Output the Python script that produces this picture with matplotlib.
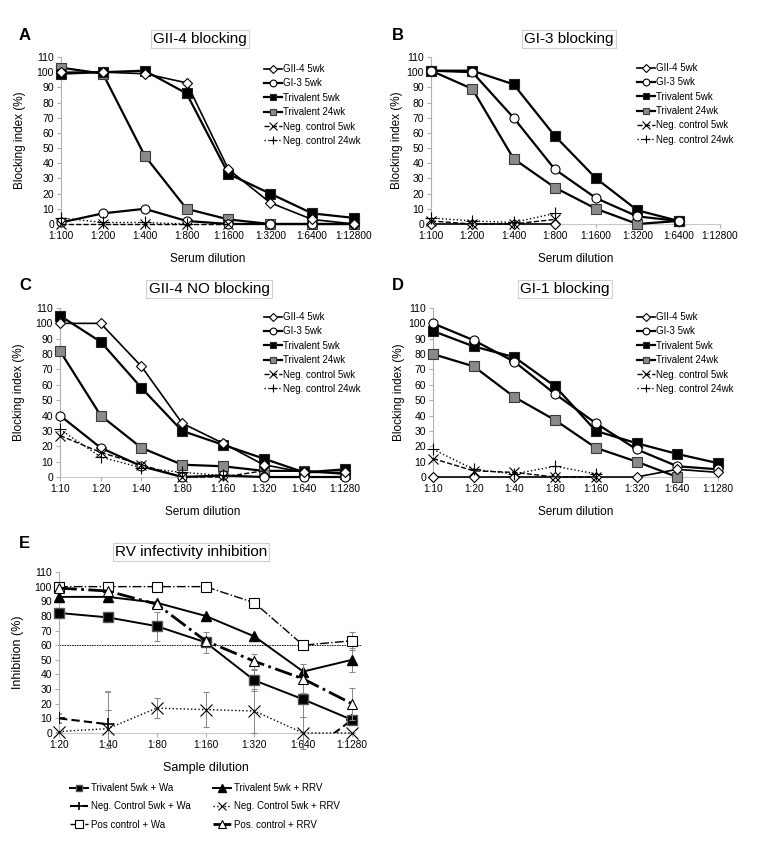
import numpy as np
import matplotlib
matplotlib.use('Agg')
import matplotlib.pyplot as plt

plt.rcParams['font.family'] = ['Liberation Sans', 'DejaVu Sans']

nan = np.nan

# dilution categories
cats_ab = ['1:100', '1:200', '1:400', '1:800', '1:1600', '1:3200', '1:6400', '1:12800']
cats_cd = ['1:10', '1:20', '1:40', '1:80', '1:160', '1:320', '1:640', '1:1280']
cats_e = ['1:20', '1:40', '1:80', '1:160', '1:320', '1:640', '1:1280']

series_names = ['GII-4 5wk', 'GI-3 5wk', 'Trivalent 5wk', 'Trivalent 24wk',
                'Neg. control 5wk', 'Neg. control 24wk']

# A: GII-4 blocking
a_gii4 = [100, 100, 99, 93, 36, 14, 3, 0]
a_gi3 = [1, 7, 10, 2, 0, 0, 0, 0]
a_tri5 = [99, 100, 101, 86, 33, 20, 7, 4]
a_tri24 = [103, 99, 45, 10, 3, 0, 0, 0]
a_neg5 = [0, 0, 0, 0, 0, nan, nan, nan]
a_neg24 = [4, 1, 1, 0, nan, nan, nan, nan]

# B: GI-3 blocking
b_gii4 = [0, 0, 0, 0, nan, nan, nan, nan]
b_gi3 = [101, 100, 70, 36, 17, 5, 2, nan]
b_tri5 = [101, 101, 92, 58, 30, 9, 2, nan]
b_tri24 = [101, 89, 43, 24, 10, 0, 2, nan]
b_neg5 = [2, 0, 0, 3, nan, nan, nan, nan]
b_neg24 = [4, 2, 1, 7, nan, nan, nan, nan]

# C: GII-4 NO blocking
c_gii4 = [100, 100, 72, 35, 22, 8, 3, 3]
c_gi3 = [40, 19, 7, 0, 1, 0, 0, 0]
c_tri5 = [105, 88, 58, 30, 21, 12, 3, 5]
c_tri24 = [82, 40, 19, 8, 7, 4, 4, 2]
c_neg5 = [27, 16, 8, 0, 0, 4, nan, nan]
c_neg24 = [31, 13, 6, 3, 1, nan, nan, nan]

# D: GI-1 blocking
d_gii4 = [0, 0, 0, 0, 0, 0, 5, 3]
d_gi3 = [100, 89, 75, 54, 35, 18, 7, 5]
d_tri5 = [95, 85, 78, 59, 30, 22, 15, 9]
d_tri24 = [80, 72, 52, 37, 19, 10, 0, nan]
d_neg5 = [12, 4, 3, 0, 0, nan, nan, nan]
d_neg24 = [18, 5, 2, 7, 2, nan, nan, nan]

# E: RV infectivity inhibition
e_tri_wa = [82, 79, 73, 62, 36, 23, 9]
e_tri_wa_err = [0, 0, 10, 7, 7, 12, 0]
e_tri_rrv = [93, 93, 89, 80, 66, 42, 50]
e_tri_rrv_err = [0, 0, 0, 0, 0, 0, 8]
e_neg_wa = [10, 6, nan, nan, nan, -16, 9]
e_neg_wa_err = [3, 22, 0, 0, 0, 0, 0]
e_neg_rrv = [1, 3, 17, 16, 15, 0, 0]
e_neg_rrv_err = [0, 13, 7, 12, 15, 11, 0]
e_pos_wa = [100, 100, 100, 100, 89, 60, 63]
e_pos_wa_err = [0, 0, 0, 0, 0, 0, 6]
e_pos_rrv = [99, 97, 88, 63, 49, 37, 20]
e_pos_rrv_err = [0, 0, 0, 0, 5, 10, 11]
threshold = 60

W, H = 758, 847
fig = plt.figure(figsize=(W / 100, H / 100), dpi=100)


def px_axes(x0, x1, y0, y1):
    # pixel box -> axes (x0/x1 first/last category, y0 = value 0, y1 = value 110)
    return fig.add_axes([x0 / W, 1 - y0 / H, (x1 - x0) / W, (y0 - y1) / H])


def style_axes(ax, cats):
    ax.set_ylim(0, 110)
    ax.set_xlim(0, len(cats) - 1)
    ax.set_yticks(range(0, 111, 10))
    for s in ['top', 'right']:
        ax.spines[s].set_visible(False)
    ax.spines['left'].set_color('#b0b0b0')
    ax.spines['bottom'].set_color('#c8c8c8')
    ax.tick_params(axis='both', colors='#b0b0b0', labelcolor='black',
                   length=3, width=0.8, pad=2)
    ax.tick_params(axis='x', labelsize=7.3)
    ax.tick_params(axis='y', labelsize=7.5)


gray_sq = '#8a8a8a'


def blocking_panel(ax, cats, data, legend_xy, ypad=8):
    gii4, gi3, tri5, tri24, neg5, neg24 = data
    ax.plot(cats, tri24, '-s', color='black', lw=1.6, ms=6.5, mfc=gray_sq, mec='#3a3a3a',
            mew=0.8, clip_on=False, zorder=3, label=series_names[3])
    ax.plot(cats, tri5, '-s', color='black', lw=1.6, ms=6.5, mfc='black', mec='#222222',
            mew=0.8, clip_on=False, zorder=4, label=series_names[2])
    ax.plot(cats, gi3, '-o', color='black', lw=1.6, ms=6.5, mfc='white', mec='black',
            mew=0.8, clip_on=False, zorder=5, label=series_names[1])
    ax.plot(cats, gii4, '-D', color='black', lw=1.2, ms=5.5, mfc='white', mec='black',
            mew=0.8, clip_on=False, zorder=6, label=series_names[0])
    ax.plot(cats, neg5, '--x', color='black', lw=1.0, ms=7, mew=0.8,
            clip_on=False, zorder=7, label=series_names[4])
    ax.plot(cats, neg24, ':+', color='black', lw=1.0, ms=8, mew=0.8,
            clip_on=False, zorder=7, label=series_names[5])
    style_axes(ax, cats)
    ax.set_xlabel('Serum dilution', fontsize=8.5, labelpad=9)
    ax.set_ylabel('Blocking index (%)', fontsize=8.5, labelpad=ypad)
    h, l = ax.get_legend_handles_labels()
    order = [3, 2, 1, 0, 4, 5]
    leg = ax.legend([h[i] for i in order], [l[i] for i in order], loc='upper left',
                    bbox_to_anchor=(legend_xy[0] / W, 1 - legend_xy[1] / H),
                    bbox_transform=fig.transFigure, frameon=False, fontsize=7,
                    handlelength=1.8, handletextpad=0.2, labelspacing=0.45,
                    borderpad=0, borderaxespad=0, markerscale=0.75)
    return leg


def title_box(x, y, text):
    fig.text(x / W, 1 - y / H, text, ha='center', va='center', fontsize=11,
             bbox=dict(boxstyle='square,pad=0.15', fc='white', ec='#d0d0d0', lw=0.8))


def letter(x, y, text):
    fig.text(x / W, 1 - y / H, text, ha='center', va='center', fontsize=12,
             fontweight='bold')


# A
axA = px_axes(61, 354, 224, 57)
blocking_panel(axA, cats_ab, [a_gii4, a_gi3, a_tri5, a_tri24, a_neg5, a_neg24], (264, 64))
title_box(200, 39, 'GII-4 blocking')
letter(25, 35, 'A')

# B
axB = px_axes(431, 720, 224, 57)
blocking_panel(axB, cats_ab, [b_gii4, b_gi3, b_tri5, b_tri24, b_neg5, b_neg24], (637, 63),
               ypad=3)
title_box(569, 39, 'GI-3 blocking')
letter(398, 35, 'B')

# C
axC = px_axes(60, 345, 477, 308)
blocking_panel(axC, cats_cd, [c_gii4, c_gi3, c_tri5, c_tri24, c_neg5, c_neg24], (264, 312))
title_box(209, 289, 'GII-4 NO blocking')
letter(25, 285, 'C')

# D
axD = px_axes(433, 718, 477, 308)
blocking_panel(axD, cats_cd, [d_gii4, d_gi3, d_tri5, d_tri24, d_neg5, d_neg24], (637, 312),
               ypad=3)
title_box(565, 289, 'GI-1 blocking')
letter(398, 285, 'D')

# E
axE = px_axes(59, 352, 733, 572)
ekw = dict(ecolor='#888888', elinewidth=0.7, capsize=2, capthick=0.7)
axE.axhline(threshold, xmin=0, xmax=1.03, color='black', lw=0.6, ls=(0, (2, 1)),
            clip_on=False, zorder=1)
e1 = axE.errorbar(cats_e, e_tri_wa, yerr=e_tri_wa_err, fmt='-s', color='black', lw=1.4, ms=7,
                  mfc='black', mec='#555555', clip_on=False, zorder=4, **ekw)
e2 = axE.errorbar(cats_e, e_tri_rrv, yerr=e_tri_rrv_err, fmt='-^', color='black', lw=1.4,
                  ms=7.5, mfc='black', clip_on=False, zorder=4, **ekw)
e3 = axE.errorbar(cats_e, e_neg_wa, yerr=e_neg_wa_err, fmt='--+', color='black', lw=1.5, ms=8,
                  mew=1.2, dashes=(4, 2), zorder=3, **ekw)
e4 = axE.errorbar(cats_e, e_neg_rrv, yerr=e_neg_rrv_err, fmt=':x', color='black', lw=1.0,
                  ms=8, mew=0.8, clip_on=False, zorder=3, **ekw)
e5 = axE.errorbar(cats_e, e_pos_wa, yerr=e_pos_wa_err, fmt='-.s', color='black', lw=1.0,
                  ms=7.5, mfc='white', mew=0.8, clip_on=False, zorder=5, **ekw)
e6 = axE.errorbar(cats_e, e_pos_rrv, yerr=e_pos_rrv_err, fmt='-.^', color='black', lw=2.0,
                  ms=7.5, mfc='white', mew=0.8, clip_on=False, zorder=5, **ekw)
style_axes(axE, cats_e)
axE.set_xlabel('Sample dilution', fontsize=9, labelpad=9)
axE.set_ylabel('Inhibition (%)', fontsize=9, labelpad=8)
# legend filled row-wise: left column Wa, right column RRV
e_handles = [e1[0], e3[0], e5[0], e2[0], e4[0], e6[0]]
e_labels = ['Trivalent 5wk + Wa', 'Neg. Control 5wk + Wa', 'Pos control + Wa',
            'Trivalent 5wk + RRV', 'Neg. Control 5wk + RRV', 'Pos. control + RRV']
axE.legend(e_handles, e_labels, loc='upper left', ncol=2,
           bbox_to_anchor=(70 / W, 1 - 783 / H), bbox_transform=fig.transFigure,
           frameon=False, fontsize=7, handlelength=1.9, handletextpad=0.3,
           labelspacing=0.85, columnspacing=2.2, borderpad=0, borderaxespad=0,
           markerscale=0.7)
title_box(191, 552, 'RV infectivity inhibition')
letter(24, 543, 'E')

fig.savefig('out.png', dpi=100)
